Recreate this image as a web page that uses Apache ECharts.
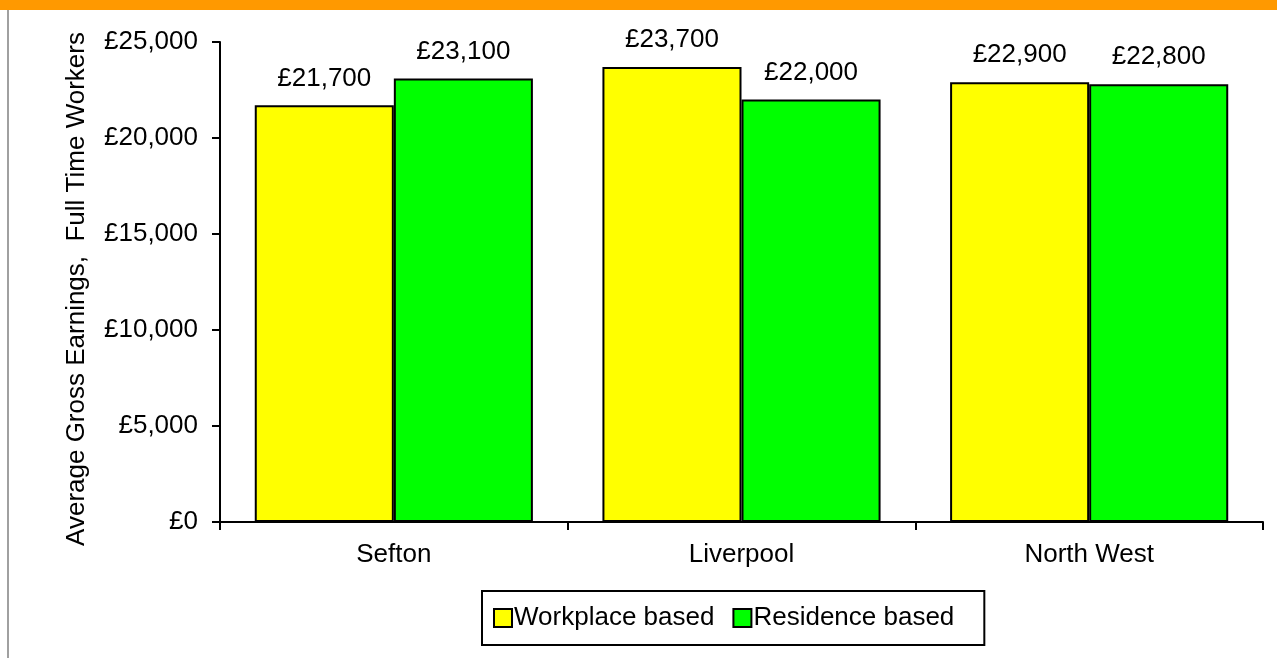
<!DOCTYPE html>
<html>
<head>
<meta charset="utf-8">
<script src="https://cdn.jsdelivr.net/npm/echarts@6/dist/echarts.min.js"></script>
<style>
  html, body { margin: 0; padding: 0; background: #ffffff; }
  #chart { width: 1277px; height: 658px; }
</style>
</head>
<body>
<div id="chart"></div>
<script>
// Average gross earnings of full-time workers by area
const categories = ['Sefton', 'Liverpool', 'North West'];
const seriesNames = ['Workplace based', 'Residence based'];
const workplaceBased = [21700, 23700, 22900];
const residenceBased = [23100, 22000, 22800];
const yTickValues = [0, 5000, 10000, 15000, 20000, 25000];

const FONT = 'Arial, "Liberation Sans", sans-serif';
const TEXT_SIZE = 26;

function pounds(v) {
  return '£' + Number(v).toLocaleString('en-GB');
}

const chart = echarts.init(document.getElementById('chart'), null, { renderer: 'canvas' });

const barStyle = (color) => ({
  color: color,
  borderColor: '#000000',
  borderWidth: 2
});

const barLabel = {
  show: true,
  position: 'top',
  distance: 14,
  color: '#000000',
  fontFamily: FONT,
  fontSize: TEXT_SIZE,
  formatter: (p) => pounds(p.value)
};

chart.setOption({
  animation: false,
  backgroundColor: '#ffffff',
  textStyle: { fontFamily: FONT, color: '#000000' },
  graphic: [
    { type: 'rect', shape: { x: 0, y: 0, width: 1277, height: 10 }, style: { fill: '#FF9900' }, silent: true },
    { type: 'rect', shape: { x: 7, y: 10, width: 2, height: 648 }, style: { fill: '#A0A0A0' }, silent: true }
  ],
  grid: { left: 220, top: 42, right: 14, bottom: 136, containLabel: false },
  legend: {
    data: seriesNames,
    left: 482,
    top: 591,
    orient: 'horizontal',
    icon: 'rect',
    itemWidth: 18,
    itemHeight: 18,
    itemGap: 18,
    padding: [14, 30, 14, 11],
    borderColor: '#000000',
    borderWidth: 2,
    textStyle: { fontFamily: FONT, fontSize: TEXT_SIZE, color: '#000000', padding: [0, 0, 0, -3] }
  },
  xAxis: {
    type: 'category',
    data: categories,
    axisLine: { lineStyle: { color: '#000000', width: 2 } },
    axisTick: { show: true, alignWithLabel: false, length: 8, lineStyle: { color: '#000000', width: 2 } },
    axisLabel: { color: '#000000', fontFamily: FONT, fontSize: TEXT_SIZE, margin: 20 }
  },
  yAxis: {
    type: 'value',
    min: yTickValues[0],
    max: yTickValues[yTickValues.length - 1],
    interval: yTickValues[1] - yTickValues[0],
    name: 'Average Gross Earnings,  Full Time Workers',
    nameLocation: 'middle',
    nameRotate: 90,
    nameGap: 130,
    nameTextStyle: { color: '#000000', fontFamily: FONT, fontSize: TEXT_SIZE, padding: [0, 14, 0, 0] },
    axisLine: { show: true, lineStyle: { color: '#000000', width: 2 } },
    axisTick: { show: true, inside: false, length: 8, lineStyle: { color: '#000000', width: 2 } },
    axisLabel: { color: '#000000', fontFamily: FONT, fontSize: TEXT_SIZE, margin: 22, formatter: pounds },
    splitLine: { show: false }
  },
  series: [
    {
      name: seriesNames[0],
      type: 'bar',
      data: workplaceBased,
      barGap: '0%',
      barCategoryGap: '20%',
      itemStyle: barStyle('#FFFF00'),
      label: barLabel
    },
    {
      name: seriesNames[1],
      type: 'bar',
      data: residenceBased,
      barGap: '0%',
      barCategoryGap: '20%',
      itemStyle: barStyle('#00FF00'),
      label: barLabel
    }
  ]
});
</script>
</body>
</html>
